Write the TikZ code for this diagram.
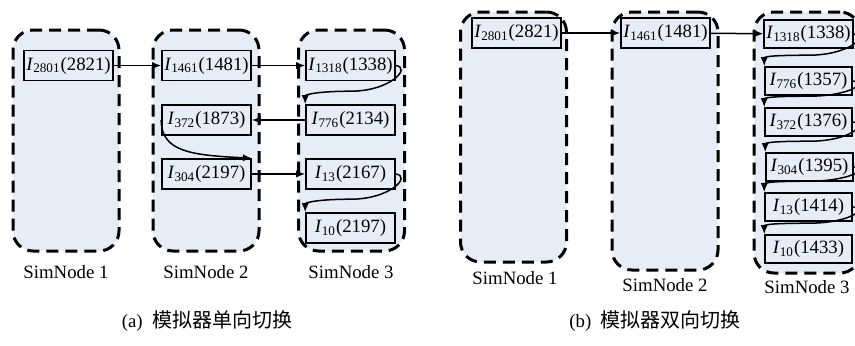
\documentclass[tikz,border=0pt]{standalone}
\usepackage{fontspec}
\setmainfont{Liberation Serif}
\newfontfamily\cjk{Noto Sans CJK SC}
\usetikzlibrary{calc,arrows.meta}
\definecolor{simfill}{RGB}{231,237,247}
\newcommand{\simI}[2]{\textit{I}\textsubscript{#1}(#2)}

\begin{document}
\begin{tikzpicture}[x=0.5pt, y=-0.5pt,
    font=\fontsize{9.4pt}{11pt}\selectfont,
    simnode/.style={draw, line width=1.5pt, dash pattern=on 6pt off 3.5pt, rounded corners=10pt, fill=simfill, minimum width=53pt},
    job/.style={draw, line width=0.8pt, minimum width=44.5pt, minimum height=15pt, inner sep=1pt},
    arrow/.style={->, >={Latex[length=4.5pt,width=3.6pt]}, line width=0.75pt}
]
    \clip (0,0) rectangle (855,345);

    % (a) one-way switching
    \node[simnode, minimum height=110.5pt] (sa1) at (66,140.5) {};
    \node[simnode, minimum height=110.5pt] (sa2) at (206,140.5) {};
    \node[simnode, minimum height=110.5pt] (sa3) at (351.5,140.5) {};

    \node[job] (a2801) at (68.5,65.5) {\simI{2801}{2821}};
    \node[job] (a1461) at (206.5,65.5) {\simI{1461}{1481}};
    \node[job] (a1318) at (350.5,65.5) {\simI{1318}{1338}};
    \node[job] (a776) at (350.5,120) {\simI{776}{2134}};
    \node[job] (a372) at (206.5,120) {\simI{372}{1873}};
    \node[job] (a304) at (206.5,174) {\simI{304}{2197}};
    \node[job] (a13) at (350.5,174) {\simI{13}{2167}};
    \node[job] (a10) at (350.5,228) {\simI{10}{2197}};

    \draw[arrow] (a2801) -- (a1461);
    \draw[arrow] (a1461) -- (a1318);
    \draw[arrow] (a1318.east) .. controls +(16,2) and +(40,0) .. ($(a776.north)+(0,-13)$) .. controls +(-30,0) and +(0,-10) .. (a776.north west);
    \draw[arrow] (a776) -- (a372);
    \draw[arrow] (a372.west) .. controls +(0,32) and +(-60,-3) .. (a304.north east);
    \draw[arrow] (a304) -- (a13);
    \draw[arrow] (a13.east) .. controls +(16,2) and +(40,0) .. ($(a10.north)+(0,-13)$) .. controls +(-30,0) and +(0,-10) .. (a10.north west);

    \node (na1) at (66,272) {SimNode 1};
    \node (na2) at (206,272) {SimNode 2};
    \node (na3) at (351,272) {SimNode 3};
    \node (capa) at (207,321) {(a)\ \ {\cjk\fontsize{10pt}{12pt}\selectfont 模拟器单向切换}};

    % (b) two-way switching
    \node[simnode, minimum height=125pt] (sb1) at (513.5,137) {};
    \node[simnode, minimum height=129pt] (sb2) at (665,141) {};
    \node[simnode, minimum height=130.5pt] (sb3) at (807,142.5) {};

    \node[job] (b2801) at (516.5,33) {\simI{2801}{2821}};
    \node[job] (b1461) at (665.5,33) {\simI{1461}{1481}};
    \node[job, minimum width=43.5pt, minimum height=14pt] (b1318) at (808.5,34) {\simI{1318}{1338}};
    \node[job, minimum width=43.5pt, minimum height=14pt] (b776) at (808.5,81) {\simI{776}{1357}};
    \node[job, minimum width=43.5pt, minimum height=14pt] (b372) at (808.5,122) {\simI{372}{1376}};
    \node[job, minimum width=43.5pt, minimum height=14pt] (b304) at (809.5,167) {\simI{304}{1395}};
    \node[job, minimum width=43.5pt, minimum height=14pt] (b13) at (808.5,207) {\simI{13}{1414}};
    \node[job, minimum width=43.5pt, minimum height=14pt] (b10) at (808.5,249) {\simI{10}{1433}};

    \draw[arrow] (b2801) -- (b1461);
    \draw[arrow] (b1461) -- (b1318);
    \foreach \u/\v in {b1318/b776, b776/b372, b372/b304, b304/b13, b13/b10}
        \draw[arrow] (\u.east) .. controls +(16,2) and +(40,0) .. ($(\v.north)+(0,-11)$) .. controls +(-30,0) and +(0,-10) .. (\v.north west);

    \node (nb1) at (515,278) {SimNode 1};
    \node (nb2) at (665,285) {SimNode 2};
    \node (nb3) at (807,287) {SimNode 3};
    \node (capb) at (655,321) {(b)\ \ {\cjk\fontsize{10pt}{12pt}\selectfont 模拟器双向切换}};
\end{tikzpicture}
\end{document}
